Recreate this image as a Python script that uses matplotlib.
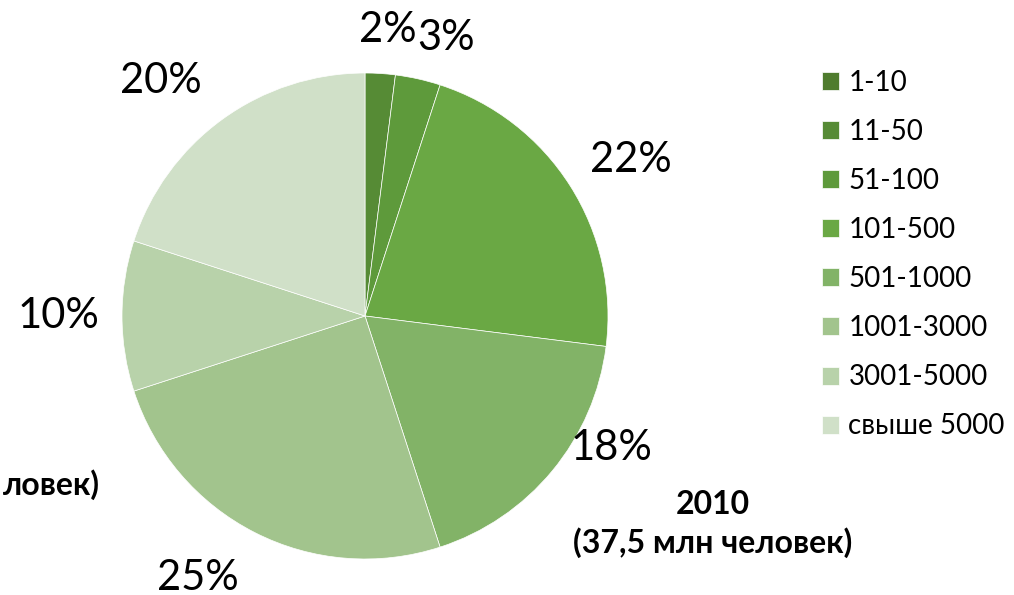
import numpy as np
import matplotlib.pyplot as plt

plt.rcParams["font.family"] = ["Lato", "DejaVu Sans"]

CATEGORIES = ["1-10", "11-50", "51-100", "101-500", "501-1000",
              "1001-3000", "3001-5000", "свыше 5000"]
SHARES = [0, 2, 3, 22, 18, 25, 10, 20]
COLORS = ["#4f7c2e", "#568b35", "#5e9a3b", "#6aa844", "#82b367",
          "#a2c48d", "#b8d2aa", "#d0e0c8"]
TITLE = "2010\n(37,5 млн человек)"
CUT_TITLE = "ловек)"

# label nudges (degrees, radius) to mimic the spreadsheet placement
LABEL_NUDGE = [0, 1.0, 3.7, 2.0, -11.4, 5.6, 0.0, -5.0]
LABEL_DIST = [1.0, 1.18, 1.19, 1.27, 1.15, 1.28, 1.26, 1.28]

W, H = 1014, 595
fig = plt.figure(figsize=(W / 100, H / 100), dpi=100)

cx, cy, r = 365, 316, 243
ax = fig.add_axes([(cx - r) / W, (H - cy - r) / H, 2 * r / W, 2 * r / H])
wedges, _ = ax.pie(SHARES, colors=COLORS, startangle=90, counterclock=False,
                   radius=1, wedgeprops={"edgecolor": "white", "linewidth": 0.5})
ax.set_xlim(-1, 1)
ax.set_ylim(-1, 1)
ax.set_aspect("equal")
ax.axis("off")

total = sum(SHARES)
cum = 0
for v, nudge, dist in zip(SHARES, LABEL_NUDGE, LABEL_DIST):
    mid = (cum + v / 2) / total * 360
    cum += v
    if v == 0:
        continue
    a = np.deg2rad(mid + nudge)
    ax.text(dist * np.sin(a), dist * np.cos(a), f"{v}%", ha="center",
            va="center", fontsize=30, color="black")

fig.legend(wedges, CATEGORIES, loc="upper left", bbox_to_anchor=(822 / W, 1 - 70 / H),
           frameon=False, fontsize=20, handlelength=0.62, handleheight=0.62,
           handletextpad=0.33, labelspacing=0.83, borderpad=0, borderaxespad=0)

fig.text(713 / W, 1 - 524 / H, TITLE, ha="center", va="center",
         fontsize=23, fontweight="bold", linespacing=1.35)
fig.text(100 / W, 1 - 485 / H, CUT_TITLE, ha="right", va="center",
         fontsize=23, fontweight="bold")

fig.savefig("out.png", dpi=100)
